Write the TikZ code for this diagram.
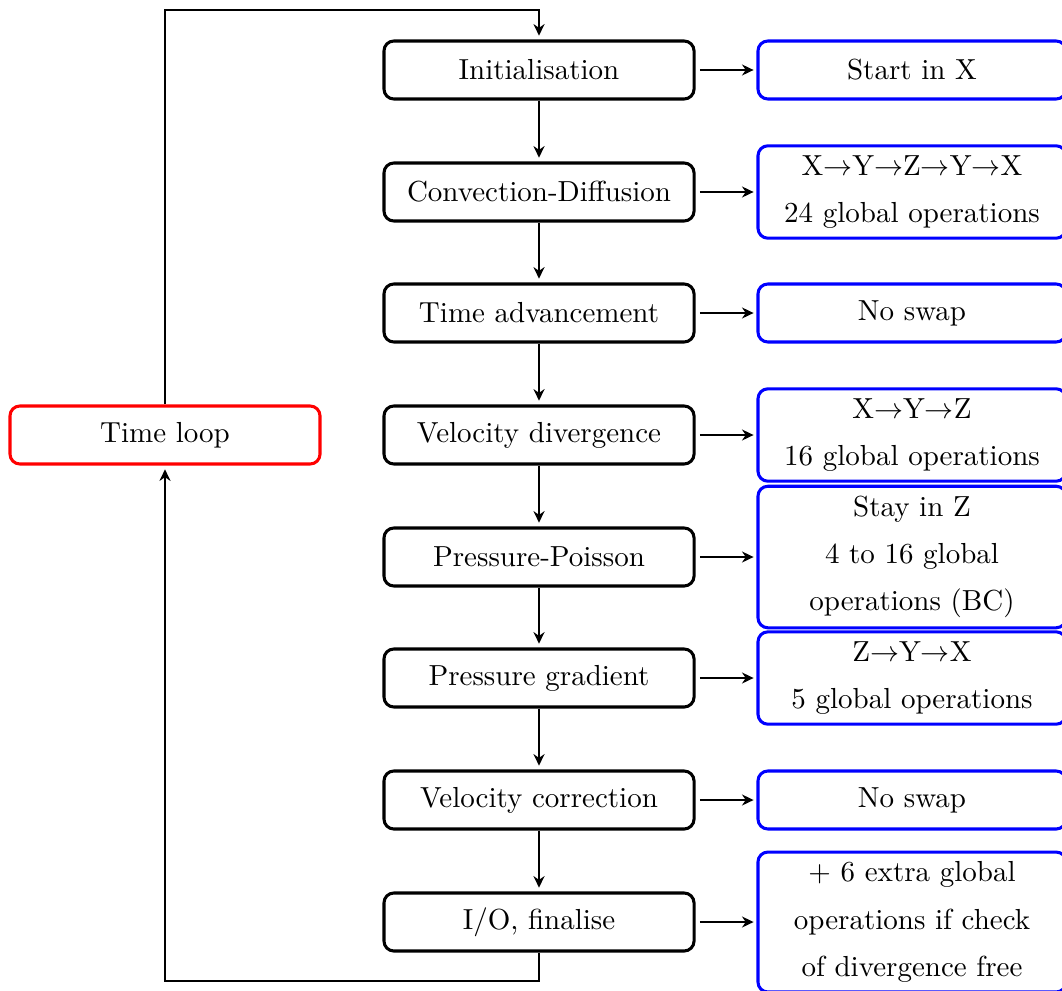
\documentclass[tikz,border=0pt]{standalone}
\usetikzlibrary{arrows.meta}
\begin{document}
\begin{tikzpicture}[x=0.3448pt,y=-0.3448pt,
  stepbox/.style={draw=black,line width=1.05pt,rounded corners=3.4pt,minimum width=106.9pt,minimum height=20pt,align=center,inner sep=3.33pt},
  infobox/.style={draw=blue,line width=1.05pt,rounded corners=3.4pt,minimum width=106.2pt,minimum height=20pt,align=center,inner sep=3.33pt,font=\fontsize{10pt}{16.3pt}\selectfont},
  loopbox/.style={draw=red,line width=1.05pt,rounded corners=3.4pt,minimum width=106.9pt,minimum height=20pt,align=center,inner sep=3.33pt},
  conn/.style={line width=0.75pt,-{Stealth[length=4pt,width=3.8pt]}},
  hconn/.style={conn,shorten <=1.5pt,shorten >=1pt},
  vconn/.style={conn,shorten >=1.3pt}]
\useasboundingbox (0,0) rectangle (1062,990);
\node[stepbox] (s1) at (539,70) {Initialisation};
\node[stepbox] (s2) at (539,192) {Convection-Diffusion};
\node[stepbox] (s3) at (539,313) {Time advancement};
\node[stepbox] (s4) at (539,435) {Velocity divergence};
\node[stepbox] (s5) at (539,557) {Pressure-Poisson};
\node[stepbox] (s6) at (539,678) {Pressure gradient};
\node[stepbox] (s7) at (539,800) {Velocity correction};
\node[stepbox] (s8) at (539,922) {I/O, finalise};
\node[loopbox] (tl) at (165,435) {Time loop};
\node[infobox] (r1) at (912,70) {Start in X};
\node[infobox] (r2) at (912,192) {X$\rightarrow$Y$\rightarrow$Z$\rightarrow$Y$\rightarrow$X\\\relax 24 global operations};
\node[infobox] (r3) at (912,313) {No swap};
\node[infobox] (r4) at (912,435) {X$\rightarrow$Y$\rightarrow$Z\\\relax 16 global operations};
\node[infobox] (r5) at (912,557) {Stay in Z\\\relax 4 to 16 global\\\relax operations (BC)};
\node[infobox] (r6) at (912,678) {Z$\rightarrow$Y$\rightarrow$X\\\relax 5 global operations};
\node[infobox] (r7) at (912,800) {No swap};
\node[infobox] (r8) at (912,922) {+ 6 extra global\\\relax operations if check\\\relax of divergence free};
\foreach \a/\b in {s1/s2,s2/s3,s3/s4,s4/s5,s5/s6,s6/s7,s7/s8}
  \draw[vconn] (\a) -- (\b);
\foreach \i in {1,...,8}
  \draw[hconn] (s\i) -- (r\i);
\coordinate (c1) at (165,10);
\coordinate (c2) at (539,10);
\coordinate (c3) at (539,981);
\coordinate (c4) at (165,981);
\draw[vconn] (tl.north) -- (c1) -- (c2) -- (s1.north);
\draw[vconn] (s8.south) -- (c3) -- (c4) -- (tl.south);
\end{tikzpicture}
\end{document}
